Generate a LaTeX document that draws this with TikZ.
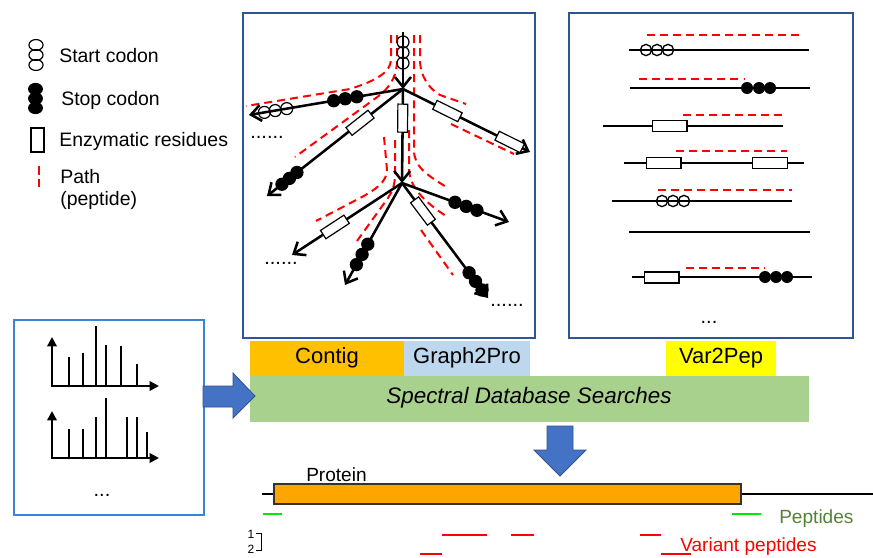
\documentclass[tikz,border=0pt]{standalone}
\usepackage{fontspec}
\setmainfont{Liberation Sans}
\usetikzlibrary{arrows.meta,calc}
\definecolor{boxblue}{RGB}{47,85,151}
\definecolor{lboxblue}{RGB}{60,130,215}
\definecolor{arrblue}{RGB}{68,114,196}
\definecolor{arrline}{RGB}{47,82,143}
\definecolor{contigc}{RGB}{255,192,0}
\definecolor{gproc}{RGB}{189,215,238}
\definecolor{vpepc}{RGB}{255,255,0}
\definecolor{sdbc}{RGB}{169,209,142}
\definecolor{protc}{RGB}{255,165,0}
\definecolor{pepgreen}{RGB}{84,130,53}
\definecolor{lgreen}{RGB}{0,230,0}
\begin{document}
\begin{tikzpicture}[x=0.75pt,y=-0.75pt,
  lbl/.style={font=\fontsize{14.6}{17}\selectfont, anchor=base west, inner sep=0pt},
  barlbl/.style={font=\fontsize{16.5}{19}\selectfont, inner sep=0pt},
  smlbl/.style={font=\fontsize{14.3}{17}\selectfont, anchor=base west, inner sep=0pt},
  dotlbl/.style={font=\fontsize{15}{17}\selectfont, inner sep=0pt},
  br/.style={line width=1.9pt, -{Straight Barb[length=7.5pt,width=12pt]}},
  oc/.style={circle, draw, line width=0.9pt, inner sep=0pt, minimum size=9pt},
  fc/.style={circle, fill=black, inner sep=0pt, minimum size=10pt},
  enz/.style={rectangle, draw, fill=white, line width=0.9pt, inner sep=0pt, minimum width=21pt, minimum height=7.4pt, sloped},
  renz/.style={rectangle, draw, fill=white, line width=1pt, inner sep=0pt, minimum width=26pt, minimum height=8.2pt},
  roc/.style={circle, draw, line width=1pt, inner sep=0pt, minimum size=8.4pt},
  rfc/.style={circle, fill=black, inner sep=0pt, minimum size=9pt},
  rl/.style={line width=1.1pt},
  pth/.style={red, line width=1.5pt, dash pattern=on 6pt off 3.8pt},
  ax/.style={line width=1.9pt, {Triangle[length=7pt,width=7pt]}-{Triangle[length=7pt,width=7pt]}},
  pk/.style={line width=1.1pt},
  bigarr/.style={fill=arrblue, draw=arrline, line width=0.6pt}
]
\useasboundingbox (0,0) rectangle (873,557);
\clip (0,0) rectangle (873,557);

% ---------------- Legend ----------------
\draw[line width=0.9pt] (36,45) ellipse [x radius=5.3pt, y radius=4.1pt];
\draw[line width=0.9pt] (36,55) ellipse [x radius=5.3pt, y radius=4.1pt];
\draw[line width=0.9pt] (36,65) ellipse [x radius=5.3pt, y radius=4.1pt];
\node[lbl] (lstart) at (59,62) {Start codon};
\fill (35.5,89) ellipse [x radius=5.6pt, y radius=4.6pt];
\fill (35.5,98.5) ellipse [x radius=5.6pt, y radius=4.6pt];
\fill (35.5,108) ellipse [x radius=5.6pt, y radius=4.6pt];
\node[lbl] (lstop) at (61,105) {Stop codon};
\draw[line width=1pt] (31,128) rectangle (44,152);
\node[lbl] (lenz) at (59,146) {Enzymatic residues};
\draw[red, line width=1.6pt, dash pattern=on 6.5pt off 3pt] (39,166) -- (39,191);
\node[lbl] (lpath) at (60,183) {Path};
\node[lbl] (lpep) at (60,205) {(peptide)};

% ---------------- Middle box (Graph2Pro) ----------------
\draw[boxblue, line width=1.2pt] (243,13) rectangle (535,338);

\coordinate (T) at (403,32);
\coordinate (J1) at (403,89);
\coordinate (J2) at (402,183);
\coordinate (E1) at (249,115);
\coordinate (E2) at (267,196);
\coordinate (E3) at (530,152);
\coordinate (E4) at (292,255);
\coordinate (E5) at (345,285);
\coordinate (E6) at (488,298);
\coordinate (E7) at (509,222);

% red peptide paths
\draw[pth] (391,35) -- (391,60) .. controls (390,72) and (378,80) .. (350,89) -- (246,106);
\draw[pth] (397,35) -- (397,60) .. controls (397,74) and (392,85) .. (380,95) -- (295,157);
\draw[pth] (420,35) -- (420,62) .. controls (421,76) and (428,88) .. (440,95) -- (466,104);
\draw[pth] (414,35) -- (414,150) .. controls (414,166) and (425,174) .. (448,188);
\draw[pth] (451,124) -- (514,154);
\draw[pth] (409,130) -- (409,170) .. controls (410,185) and (420,199) .. (446,216);
\draw[pth] (384,137) -- (387,170) .. controls (387,182) and (375,190) .. (360,198) -- (316,221);
\draw[pth] (395,140) -- (395,175) .. controls (395,185) and (392,192) .. (388,198) -- (357,241);
\draw[pth] (421,230) -- (453,275);

% branches
\draw[br] (T) -- (J1);
\draw[br] (J1) -- (J2);
\draw[br] (J1) -- (E1);
\draw[br] (J1) -- (E2);
\draw[br] (J1) -- (E3);
\draw[br] (J2) -- (E4);
\draw[br] (J2) -- (E5);
\draw[br] (J2) -- (E6);
\draw[br] (J2) -- (E7);

% markers
\path (T) -- (J1) node[oc,pos=.175] (t1) {} node[oc,pos=.36] (t2) {} node[oc,pos=.545] (t3) {};
\path (J1) -- (J2) node[enz,pos=.31] (m1) {};
\path (J1) -- (E1) node[fc,pos=.30] (a1) {} node[fc,pos=.375] (a2) {} node[fc,pos=.45] (a3) {}
                   node[oc,pos=.755] (a4) {} node[oc,pos=.83] (a5) {} node[oc,pos=.90] (a6) {};
\path (J1) -- (E2) node[enz,pos=.316] (b1) {} node[fc,pos=.78] (b2) {} node[fc,pos=.835] (b3) {} node[fc,pos=.89] (b4) {};
\path (J1) -- (E3) node[enz,pos=.35] (c1) {} node[enz,pos=.84] (c2) {};
\path (J2) -- (E4) node[enz,pos=.61] (d1) {};
\path (J2) -- (E5) node[fc,pos=.60] (e1) {} node[fc,pos=.70] (e2) {} node[fc,pos=.80] (e3) {};
\path (J2) -- (E6) node[enz,pos=.244] (f1) {} node[fc,pos=.78] (f2) {} node[fc,pos=.855] (f3) {} node[fc,pos=.93] (f4) {};
\path (J2) -- (E7) node[fc,pos=.495] (g1) {} node[fc,pos=.60] (g2) {} node[fc,pos=.70] (g3) {};

\node[dotlbl] (dots1) at (267,137) {......};
\node[dotlbl] (dots2) at (281,263) {......};
\node[dotlbl] (dots3) at (507,305) {......};

% ---------------- Right box (Var2Pep) ----------------
\draw[boxblue, line width=1.2pt] (569,13) rectangle (853,338);
% row 1
\draw[pth] (647,35) -- (803,35);
\draw[rl] (629,50) -- (809,50);
\node[roc] (r1a) at (646,50) {}; \node[roc] (r1b) at (657,50) {}; \node[roc] (r1c) at (668,50) {};
% row 2
\draw[pth] (639,79) -- (745,79);
\draw[rl] (630,88) -- (810,88);
\node[rfc] (r2a) at (747,88) {}; \node[rfc] (r2b) at (759,88) {}; \node[rfc] (r2c) at (770,88) {};
% row 3
\draw[pth] (683,115) -- (787,115);
\draw[rl] (603,126) -- (783,126);
\node[renz] (r3a) at (669.5,126) {};
% row 4
\draw[pth] (676,151) -- (787,151);
\draw[rl] (624,163) -- (804,163);
\node[renz] (r4a) at (663.5,163) {}; \node[renz] (r4b) at (770,163) {};
% row 5
\draw[pth] (658,190) -- (792,190);
\draw[rl] (612,201) -- (792,201);
\node[roc] (r5a) at (662,201) {}; \node[roc] (r5b) at (673,201) {}; \node[roc] (r5c) at (684,201) {};
% row 6
\draw[rl] (629,232) -- (810,232);
% row 7
\draw[pth] (686,268) -- (765,268);
\draw[rl] (632,277) -- (812,277);
\node[renz] (r7a) at (661.5,277.5) {};
\node[rfc] (r7b) at (765,277) {}; \node[rfc] (r7c) at (776,277) {}; \node[rfc] (r7d) at (787,277) {};
\node[dotlbl] (rdots) at (709,322) {...};

% ---------------- Tool bars ----------------
\fill[contigc] (250,341) rectangle (404,376);
\fill[gproc] (404,341) rectangle (530,376);
\fill[vpepc] (666,341) rectangle (776,376);
\fill[sdbc] (250,376) rectangle (809,422);
\node[barlbl] (contig) at (327,358) {Contig};
\node[barlbl] (g2p) at (467,358) {Graph2Pro};
\node[barlbl] (v2p) at (721,358) {Var2Pep};
\node[barlbl, font=\fontsize{16.8}{19}\selectfont\itshape] (sdb) at (529,398) {Spectral Database Searches};

% ---------------- Spectra box ----------------
\draw[lboxblue, line width=1.2pt] (14,320) rectangle (204,515);
\draw[ax] (52,337) -- (52,386) -- (159,386);
\draw[pk] (69,386) -- (69,357);
\draw[pk] (83,386) -- (83,353);
\draw[pk] (96,386) -- (96,326);
\draw[pk] (106,386) -- (106,345);
\draw[pk] (121,386) -- (121,346);
\draw[pk] (137,386) -- (137,364);
\draw[ax] (52,411) -- (52,458) -- (159,458);
\draw[pk] (69,458) -- (69,429);
\draw[pk] (83,458) -- (83,429);
\draw[pk] (96,458) -- (96,417);
\draw[pk] (106,458) -- (106,398);
\draw[pk] (127,458) -- (127,417);
\draw[pk] (137,458) -- (137,417);
\draw[pk] (147,458) -- (147,432);
\node[dotlbl] (ldots) at (102,495) {...};

% ---------------- Big arrows ----------------
\draw[bigarr] (203,386) -- (233,386) -- (233,373) -- (255,396) -- (233,418) -- (233,407) -- (203,407) -- cycle;
\draw[bigarr] (547,426) -- (573,426) -- (573,450) -- (586,450) -- (560,476) -- (534,450) -- (547,450) -- cycle;

% ---------------- Protein ----------------
\draw[line width=1.3pt] (262,494) -- (873,494);
\draw[fill=protc, draw=black!80, line width=0.8pt] (274,484) rectangle (741,504);
\node[smlbl] (protein) at (306,481) {Protein};
\draw[lgreen, line width=1.4pt] (263,514) -- (282,514);
\draw[lgreen, line width=1.4pt] (732,514) -- (761,514);
\node[smlbl, text=pepgreen] (peps) at (779,523) {Peptides};
\draw[red, line width=1.5pt] (442,535) -- (487,535);
\draw[red, line width=1.5pt] (511,535) -- (534,535);
\draw[red, line width=1.5pt] (640,535) -- (661,535);
\draw[red, line width=1.5pt] (420,554) -- (442,554);
\draw[red, line width=1.5pt] (661,554) -- (691,554);
\node[smlbl, text=red] (vpeps) at (680,551) {Variant peptides};
\node[font=\fontsize{9}{10}\selectfont, inner sep=0pt] (n1) at (251,534) {1};
\node[font=\fontsize{9}{10}\selectfont, inner sep=0pt] (n2) at (251,549) {2};
\draw[line width=0.7pt] (256,533) -- (261.5,533) -- (261.5,550) -- (256,550);
\end{tikzpicture}
\end{document}
